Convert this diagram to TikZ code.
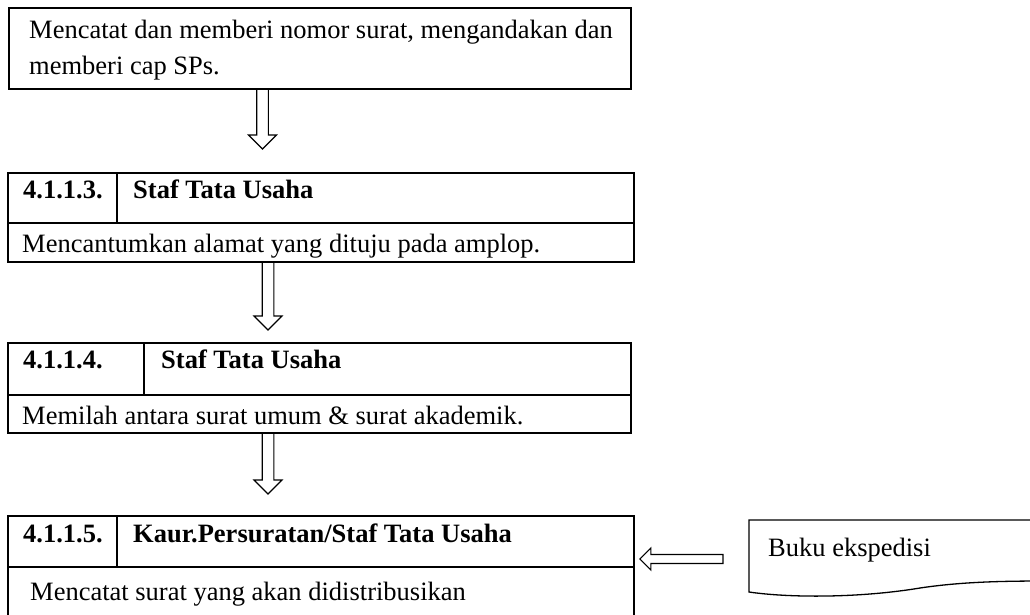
\documentclass[tikz,border=0pt]{standalone}
\usepackage{fontspec}
\setmainfont{Liberation Serif}
\usetikzlibrary{calc}
\begin{document}
\begin{tikzpicture}[x=1pt,y=-1pt,
  frame/.style={draw, line width=1.8pt, inner sep=0pt, anchor=north west},
  rule/.style={line width=1.8pt},
  lbl/.style={anchor=base west, inner sep=0pt, font=\fontsize{26.5}{32}\selectfont},
  hdr/.style={anchor=base west, inner sep=0pt, font=\fontsize{26.5}{32}\selectfont\bfseries},
  blockarrow/.style={draw, line width=1.1pt, line join=miter},
  docshape/.style={draw, line width=1.3pt}]
\useasboundingbox (0,0) rectangle (1030,614);
\clip (0,0) rectangle (1030,614);

% hollow downward block arrow: #1 = start on the upper box, #2 = tip
\newcommand\downblock[2]{%
  \draw[blockarrow] let \p1=(#1), \p2=(#2) in
    (\x1-5.8pt,\y1) -- (\x1-5.8pt,\y2+14pt) -- (\x1-14pt,\y2+14pt) -- (\p2)
    -- (\x1+14pt,\y2+14pt) -- (\x1+5.8pt,\y2+14pt) -- (\x1+5.8pt,\y1);}

% step 1
\node[frame, minimum width=622pt, minimum height=81pt] (b1) at (8,7) {};
\node[lbl] (t1a) at (29,38) {Mencatat dan memberi nomor surat, mengandakan dan};
\node[lbl] (t1b) at (29,74) {memberi cap SPs.};

% step 4.1.1.3.
\node[frame, minimum width=626pt, minimum height=89pt] (b2) at (7,172) {};
\draw[rule] (7,223) -- (633,223);
\draw[rule] (117,172) -- (117,223);
\node[hdr] (n2) at (23,198) {4.1.1.3.};
\node[hdr] (r2) at (133,198) {Staf Tata Usaha};
\node[lbl] (t2) at (22,252) {Mencantumkan alamat yang dituju pada amplop.};

% step 4.1.1.4.
\node[frame, minimum width=623pt, minimum height=90pt] (b3) at (7,342) {};
\draw[rule] (7,395) -- (630,395);
\draw[rule] (144,342) -- (144,395);
\node[hdr] (n3) at (23,368) {4.1.1.4.};
\node[hdr] (r3) at (161,368) {Staf Tata Usaha};
\node[lbl] (t3) at (22,424) {Memilah antara surat umum \& surat akademik.};

% step 4.1.1.5.
\node[frame, minimum width=626pt, minimum height=140pt] (b4) at (7,515) {};
\draw[rule] (7,567) -- (633,567);
\draw[rule] (117,515) -- (117,567);
\node[hdr] (n4) at (23,542) {4.1.1.5.};
\node[hdr] (r4) at (133,542) {Kaur.Persuratan/Staf Tata Usaha};
\node[lbl] (t4) at (30,600) {Mencatat surat yang akan didistribusikan};

% document: Buku ekspedisi
\draw[docshape] (749,520) -- (1045,520) -- (1045,581)
  .. controls (1000,581) and (960,582) .. (920,588)
  .. controls (860,598) and (790,598) .. (749,592) -- cycle;
\node[lbl] (doc) at (768,556) {Buku ekspedisi};

% flow arrows between the steps
\coordinate (tip1) at (262.5,149);
\coordinate (tip2) at (268,330);
\coordinate (tip3) at (268,494);
\downblock{b1.south -| tip1}{tip1}
\downblock{b2.south -| tip2}{tip2}
\downblock{b3.south -| tip3}{tip3}

% arrow from the document into step 4.1.1.5.
\coordinate (tail4) at (723,559);
\coordinate (tip4) at ($(b4.east |- tail4)+(5,0)$);
\draw[blockarrow] let \p1=(tail4), \p2=(tip4) in
  (\x1,\y1-4.5pt) -- (\x2+11pt,\y1-4.5pt) -- (\x2+11pt,\y1-11pt) -- (\p2)
  -- (\x2+11pt,\y1+11pt) -- (\x2+11pt,\y1+4.5pt) -- (\x1,\y1+4.5pt) -- cycle;
\end{tikzpicture}
\end{document}
